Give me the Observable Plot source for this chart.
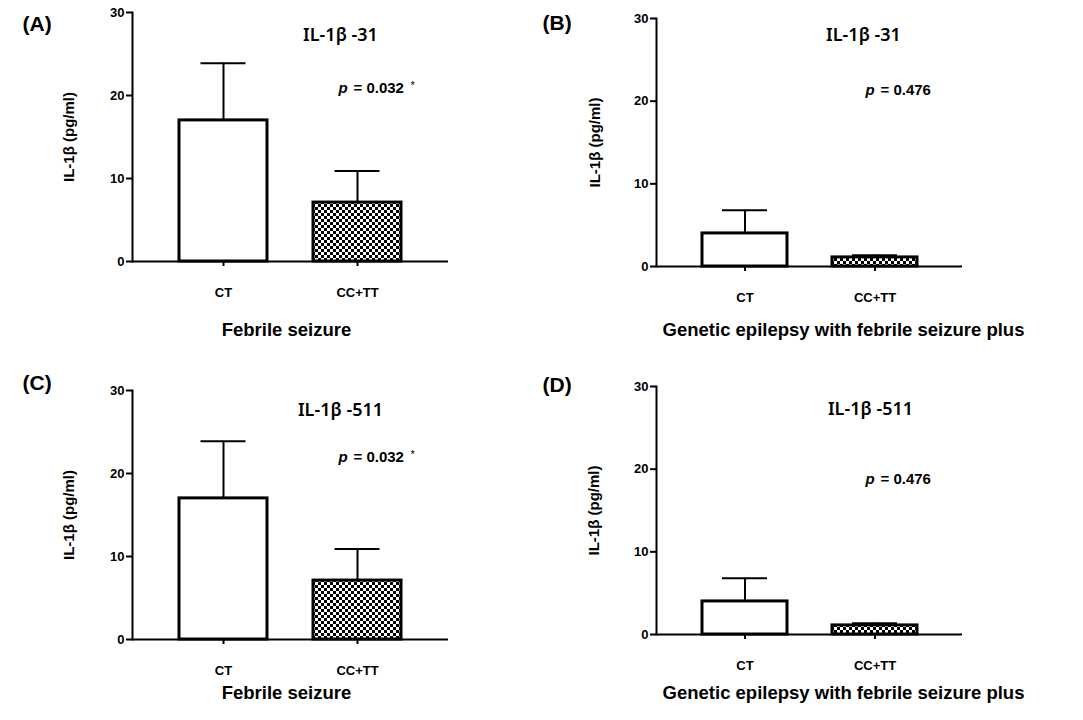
<!DOCTYPE html>
<html>
<head>
<meta charset="utf-8">
<script src="https://cdn.jsdelivr.net/npm/d3@7"></script>
<script src="https://cdn.jsdelivr.net/npm/@observablehq/plot@0.6"></script>
<style>
  html, body { margin: 0; padding: 0; background: #fff; }
  #chart { position: relative; width: 1083px; height: 720px; background: #fff; }
  #chart svg { position: absolute; }
</style>
</head>
<body>
<div id="chart"></div>
<script>
// ---- data ----
const groups = ["CT", "CC+TT"];
const yTicks = [0, 10, 20, 30];
const fsMean = [17.0, 7.1];        // Febrile seizure, mean
const fsUpper = [23.9, 10.9];      // Febrile seizure, mean + error
const gefsMean = [4.0, 1.1];       // GEFS+, mean
const gefsUpper = [6.8, 1.35];     // GEFS+, mean + error
const panelLetters = ["(A)", "(B)", "(C)", "(D)"];
const snpTitles = ["IL-1β -31", "IL-1β -31", "IL-1β -511", "IL-1β -511"];
const pValues = ["0.032", "0.476", "0.032", "0.476"];
const pStars = ["*", "", "*", ""];
const cohortLabels = ["Febrile seizure", "Genetic epilepsy with febrile seizure plus"];
const yLabel = "IL-1β (pg/ml)";

// ---- layout ----
const layouts = [
  {left: 0,   top: 0,   width: 540, mt: 12, mb: 99, ml: 132, mr: 92,  pad: 0.346, cap: 21.5, title: [208, 23], p: [206, 76], letter: [-110, 11.5], xlab: [-4, 69], ylab: -63},
  {left: 540, top: 0,   width: 543, mt: 18, mb: 94, ml: 116, mr: 121, pad: 0.35,  cap: 20,   title: [207, 17], p: [209, 72], letter: [-114, 5],    xlab: [34, 64], ylab: -61},
  {left: 0,   top: 360, width: 540, mt: 30, mb: 81, ml: 132, mr: 92,  pad: 0.346, cap: 21.5, title: [208, 20], p: [206, 67], letter: [-110, -7],   xlab: [-4, 54], ylab: -63},
  {left: 540, top: 360, width: 543, mt: 26, mb: 86, ml: 116, mr: 121, pad: 0.35,  cap: 20,   title: [214, 23], p: [209, 93], letter: [-114, -1],   xlab: [34, 59], ylab: -62}
];
const means = [fsMean, gefsMean, fsMean, gefsMean];
const uppers = [fsUpper, gefsUpper, fsUpper, gefsUpper];
const cohorts = [cohortLabels[0], cohortLabels[1], cohortLabels[0], cohortLabels[1]];

const SANS = "'Liberation Sans', Arial, sans-serif";
const TITLE_FONT = "'Noto Sans', 'Open Sans', sans-serif";

function checkerDefs(id) {
  return () => {
    const ns = "http://www.w3.org/2000/svg";
    const defs = document.createElementNS(ns, "defs");
    const pat = document.createElementNS(ns, "pattern");
    pat.setAttribute("id", id);
    pat.setAttribute("patternUnits", "userSpaceOnUse");
    pat.setAttribute("width", 6);
    pat.setAttribute("height", 6);
    const bg = document.createElementNS(ns, "rect");
    bg.setAttribute("width", 6); bg.setAttribute("height", 6); bg.setAttribute("fill", "white");
    pat.appendChild(bg);
    for (const [x, y] of [[0, 0], [3, 3]]) {
      const r = document.createElementNS(ns, "rect");
      r.setAttribute("x", x); r.setAttribute("y", y);
      r.setAttribute("width", 3); r.setAttribute("height", 3); r.setAttribute("fill", "black");
      pat.appendChild(r);
    }
    defs.appendChild(pat);
    return defs;
  };
}

const chart = document.getElementById("chart");

layouts.forEach((L, k) => {
  const id = "checker" + k;
  const data = groups.map((g, i) => ({group: g, mean: means[k][i], upper: uppers[k][i]}));
  const plot = Plot.plot({
    width: L.width,
    height: 360,
    marginLeft: L.ml, marginRight: L.mr, marginTop: L.mt, marginBottom: L.mb,
    style: {background: "transparent", overflow: "visible", color: "black", fontSize: "13px", fontWeight: "bold", fontFamily: SANS},
    x: {domain: groups, padding: L.pad, axis: null},
    y: {domain: [0, 30], axis: null},
    marks: [
      checkerDefs(id),
      Plot.axisY({ticks: yTicks, tickSize: 6, tickPadding: 2, strokeWidth: 2, fontSize: 13, fontWeight: "bold", fontFamily: SANS, label: null}),
      Plot.axisX({tickSize: 5, tickPadding: 21, strokeWidth: 2, fontSize: 13, fontWeight: "bold", fontFamily: SANS, label: null}),
      Plot.ruleX(data, {x: "group", y1: "mean", y2: "upper", strokeWidth: 2}),
      Plot.tickY(data, {x: "group", y: "upper", strokeWidth: 2, insetLeft: L.cap, insetRight: L.cap}),
      Plot.barY(data, {filter: d => d.group === "CT", x: "group", y: "mean", fill: "white", stroke: "black", strokeWidth: 3}),
      Plot.barY(data, {filter: d => d.group !== "CT", x: "group", y: "mean", fill: `url(#${id})`, stroke: "black", strokeWidth: 3}),
      Plot.ruleY([0], {strokeWidth: 2}),
      Plot.frame({anchor: "left", strokeWidth: 2}),
      // panel letter
      Plot.text([panelLetters[k]], {text: d => d, frameAnchor: "top-left", dx: L.letter[0], dy: L.letter[1], textAnchor: "start", lineAnchor: "middle", fontSize: 21, fontWeight: "bold", fontFamily: SANS}),
      // SNP title
      Plot.text([snpTitles[k]], {text: d => d, frameAnchor: "top-left", dx: L.title[0], dy: L.title[1], textAnchor: "middle", lineAnchor: "middle", fontSize: 18, fontWeight: 600, fontFamily: TITLE_FONT}),
      // p-value
      Plot.text(["p"], {text: d => d, frameAnchor: "top-left", dx: L.p[0], dy: L.p[1], textAnchor: "start", lineAnchor: "middle", fontSize: 15, fontWeight: "bold", fontStyle: "italic", fontFamily: SANS}),
      Plot.text([pValues[k]], {text: d => "= " + d, frameAnchor: "top-left", dx: L.p[0] + 15, dy: L.p[1], textAnchor: "start", lineAnchor: "middle", fontSize: 15, fontWeight: "bold", fontFamily: SANS}),
      Plot.text([pStars[k]], {text: d => d, frameAnchor: "top-left", dx: L.p[0] + 72, dy: L.p[1] - 3, textAnchor: "start", lineAnchor: "middle", fontSize: 11, fontWeight: "normal", fontFamily: SANS}),
      // y-axis label
      Plot.text([yLabel], {text: d => d, frameAnchor: "left", dx: L.ylab, rotate: -90, textAnchor: "middle", lineAnchor: "middle", fontSize: 15, fontWeight: "bold", fontFamily: SANS}),
      // x-axis (cohort) label
      Plot.text([cohorts[k]], {text: d => d, frameAnchor: "bottom", dx: L.xlab[0], dy: L.xlab[1], textAnchor: "middle", lineAnchor: "middle", fontSize: 18.5, fontWeight: "bold", fontFamily: SANS})
    ]
  });
  plot.style.left = L.left + "px";
  plot.style.top = L.top + "px";
  chart.appendChild(plot);
});
</script>
</body>
</html>
